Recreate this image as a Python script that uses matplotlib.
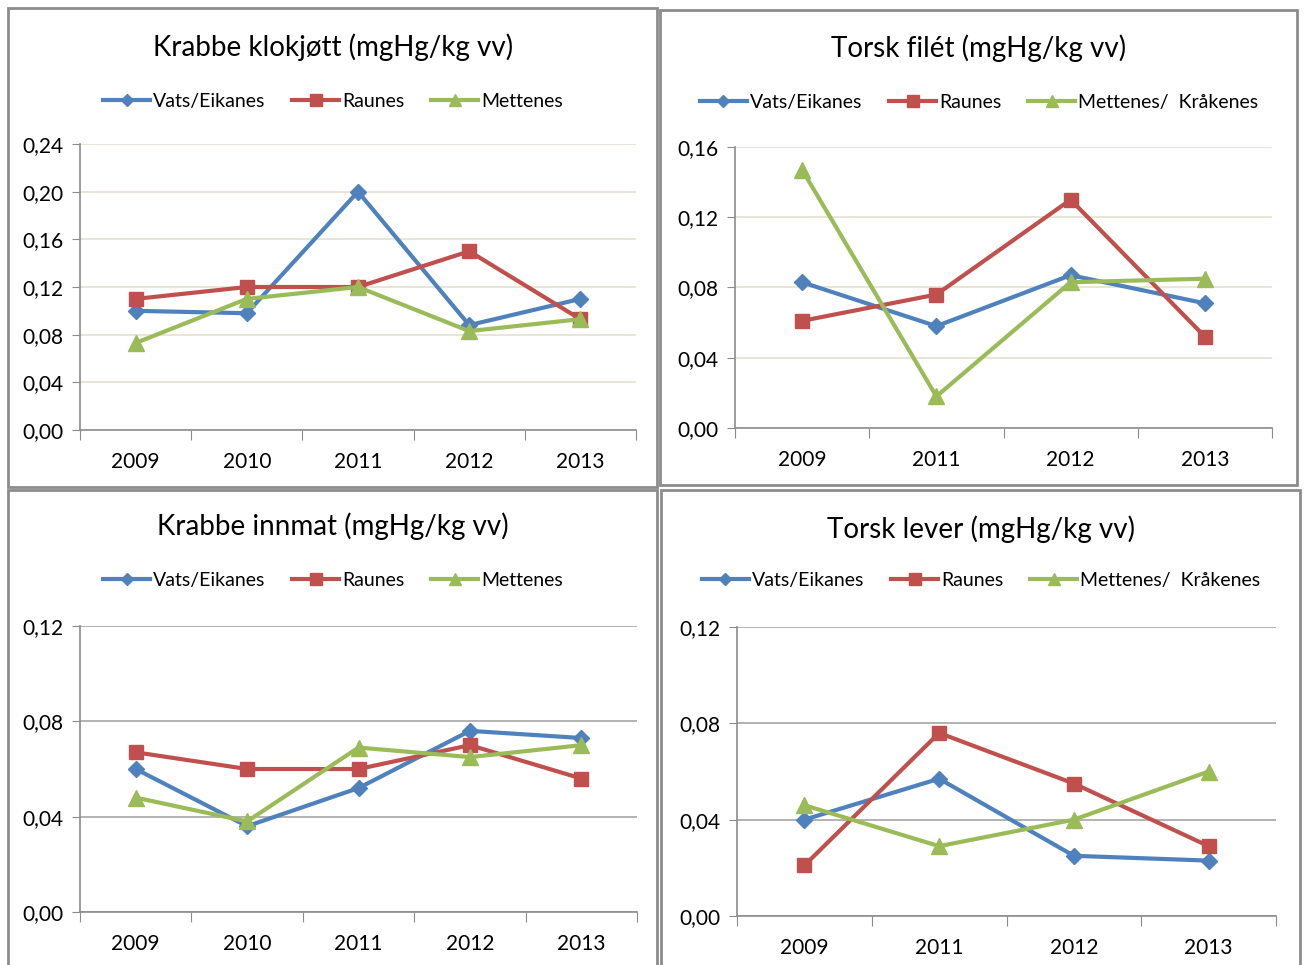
import numpy as np
import matplotlib
matplotlib.use('Agg')
import matplotlib.pyplot as plt
from matplotlib.patches import Rectangle

plt.rcParams['font.family'] = ['Lato', 'DejaVu Sans']

# --- data -------------------------------------------------------------
years_krabbe = ['2009', '2010', '2011', '2012', '2013']
years_torsk = ['2009', '2011', '2012', '2013']

klokjott_vats = [0.100, 0.098, 0.200, 0.088, 0.110]
klokjott_raunes = [0.110, 0.120, 0.120, 0.150, 0.093]
klokjott_mettenes = [0.073, 0.110, 0.120, 0.083, 0.093]

filet_vats = [0.083, 0.058, 0.087, 0.071]
filet_raunes = [0.061, 0.076, 0.130, 0.052]
filet_mettenes = [0.147, 0.018, 0.083, 0.085]

innmat_vats = [0.060, 0.036, 0.052, 0.076, 0.073]
innmat_raunes = [0.067, 0.060, 0.060, 0.070, 0.056]
innmat_mettenes = [0.048, 0.038, 0.069, 0.065, 0.070]

lever_vats = [0.040, 0.057, 0.025, 0.023]
lever_raunes = [0.021, 0.076, 0.055, 0.029]
lever_mettenes = [0.046, 0.029, 0.040, 0.060]

labels_krabbe = ['Vats/Eikanes', 'Raunes', 'Mettenes']
labels_torsk = ['Vats/Eikanes', 'Raunes', 'Mettenes/  Kråkenes']

W, H = 1306, 965
fig = plt.figure(figsize=(W / 100, H / 100), dpi=100)
fig.patch.set_facecolor('white')

colors = ['#4F81BD', '#C0504D', '#9BBB59']
markers = ['D', 's', '^']
msizes = [8, 10, 11]


def px_axes(x0, y0, x1, y1):
    # pixel box (top-left origin) -> figure axes
    return fig.add_axes([x0 / W, 1 - y1 / H, (x1 - x0) / W, (y1 - y0) / H])


def box(x0, y0, x1, y1):
    fig.patches.append(Rectangle((x0 / W, 1 - y1 / H), (x1 - x0) / W, (y1 - y0) / H,
                                 transform=fig.transFigure, fill=False,
                                 edgecolor='#8c8c8c', linewidth=2))


def panel(ax, cats, series, labels, title, ymax, step, gridcolor, cx, title_y, leg_y):
    n = len(cats)
    x = np.arange(n)
    for vals, lab, c, m, ms in zip(series, labels, colors, markers, msizes):
        ax.plot(x, vals, color=c, marker=m, markersize=ms, linewidth=3,
                label=lab, markeredgecolor=c, clip_on=False)
    ax.set_xlim(-0.5, n - 0.5)
    ax.set_ylim(0, ymax)
    yt = np.arange(0, ymax + step / 2, step)
    ax.set_yticks(yt)
    ax.set_yticklabels([f'{v:.2f}'.replace('.', ',') for v in yt], fontsize=15)
    ax.set_xticks(np.arange(-0.5, n, 1.0))
    ax.set_xticklabels([''] * (n + 1))
    ax.set_xticks(x, minor=True)
    ax.set_xticklabels(cats, minor=True, fontsize=15)
    ax.tick_params(axis='x', which='major', length=7, color='#8c8c8c', direction='out')
    ax.tick_params(axis='x', which='minor', length=0, pad=16)
    ax.tick_params(axis='y', length=6, color='#8c8c8c', direction='out', pad=6)
    for s in ['top', 'right']:
        ax.spines[s].set_visible(False)
    for s in ['left', 'bottom']:
        ax.spines[s].set_color('#8c8c8c')
        ax.spines[s].set_linewidth(1.2)
    ax.grid(axis='y', color=gridcolor, linewidth=1.2)
    ax.set_axisbelow(True)
    # title and legend are centred on the panel box, not the plot area
    pos = ax.get_position()
    ax_cx = (cx / W - pos.x0) / pos.width
    ax.text(ax_cx, title_y, title, transform=ax.transAxes, fontsize=20,
            ha='center', va='center')
    ax.legend(loc='center', bbox_to_anchor=(ax_cx, leg_y), ncol=3, frameon=False,
              fontsize=14, handlelength=2.4, columnspacing=1.4, handletextpad=0.15,
              markerscale=0.8)


box(8, 8, 657, 487)
box(660, 10, 1297, 485)
box(8, 490, 657, 975)
box(661, 490, 1300, 975)

ax1 = px_axes(80, 144, 636, 430)
panel(ax1, years_krabbe, [klokjott_vats, klokjott_raunes, klokjott_mettenes],
      labels_krabbe, 'Krabbe klokjøtt (mgHg/kg vv)', 0.24, 0.04, '#e6e2cf',
      333, 1.34, 1.15)

ax2 = px_axes(735, 147, 1272, 428)
panel(ax2, years_torsk, [filet_vats, filet_raunes, filet_mettenes],
      labels_torsk, 'Torsk filét (mgHg/kg vv)', 0.16, 0.04, '#e6e2cf',
      979, 1.35, 1.16)

ax3 = px_axes(80, 626, 637, 912)
panel(ax3, years_krabbe, [innmat_vats, innmat_raunes, innmat_mettenes],
      labels_krabbe, 'Krabbe innmat (mgHg/kg vv)', 0.12, 0.04, '#a6a6a6',
      333, 1.35, 1.16)

ax4 = px_axes(737, 627, 1276, 916)
panel(ax4, years_torsk, [lever_vats, lever_raunes, lever_mettenes],
      labels_torsk, 'Torsk lever (mgHg/kg vv)', 0.12, 0.04, '#a6a6a6',
      981, 1.34, 1.16)

fig.savefig('out.png', dpi=100)
